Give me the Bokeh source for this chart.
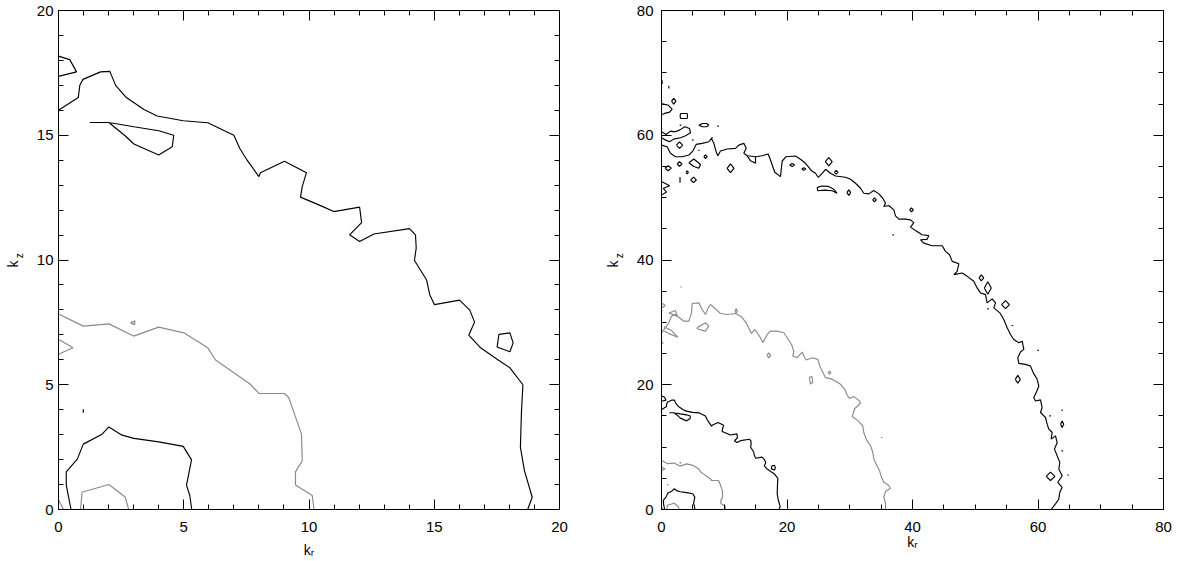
from bokeh.plotting import figure
from bokeh.models import LinearAxis, FixedTicker, Range1d
from bokeh.layouts import row
from bokeh.embed import file_html
from bokeh.resources import INLINE

# ---------------- data: contour paths (k_r, k_z) ----------------
# low-k contours (left panel; also visible in the right panel)
black_main = [(0, 16.0), (0.79, 16.51), (0.85, 17.0), (0.98, 17.24), (1.68, 17.54), (2.05, 17.56),
              (2.28, 17.0), (2.71, 16.51), (3.41, 16.03), (3.94, 15.77), (4.98, 15.58), (5.96, 15.5),
              (7.0, 15.0), (7.24, 14.47), (7.53, 14.0), (8.0, 13.34), (8.06, 13.5), (9.02, 13.96),
              (9.9, 13.5), (9.73, 12.94), (9.66, 12.52), (10.46, 12.18), (10.99, 11.94), (12.02, 12.12),
              (12.1, 11.5), (11.62, 11.01), (12.02, 10.74), (12.59, 11.04), (14.01, 11.26), (14.25, 11.01),
              (14.28, 10.48), (14.21, 9.98), (14.69, 9.21), (14.82, 8.61), (15.01, 8.21), (16.01, 8.39),
              (16.42, 7.99), (16.61, 7.51), (16.38, 6.99), (16.85, 6.48), (17.51, 6.02), (18.02, 5.68),
              (18.54, 5.0), (18.48, 3.89), (18.44, 2.49), (18.6, 1.56), (18.91, 0.49), (18.73, 0.0)]
black_corner = [(0, 18.17), (0.45, 18.03), (0.72, 17.54), (0, 17.36)]
black_wedge = [(1.25, 15.51), (2.01, 15.51), (3.01, 15.34), (4.0, 15.18), (4.6, 15.0), (4.54, 14.54),
               (4.0, 14.21), (3.01, 14.65), (2.67, 14.97), (2.01, 15.51), (1.25, 15.51)]
black_loop = [(17.58, 7.02), (18.02, 7.08), (18.15, 6.68), (18.02, 6.32), (17.51, 6.51), (17.58, 7.02)]
black_inner = [(0.5, 0), (0.31, 0.98), (0.31, 1.51), (0.75, 2.02), (0.99, 2.62), (1.74, 3.02), (2.01, 3.31),
               (2.54, 2.98), (3.01, 2.85), (4.0, 2.71), (4.98, 2.53), (5.31, 1.99), (5.11, 0.98),
               (5.24, 0.56), (5.32, 0)]
black_dot = [(0.99, 3.88), (0.99, 4.02)]
gray_main = [(0, 7.84), (0.99, 7.35), (2.01, 7.44), (3.0, 6.95), (4.0, 7.31), (5.0, 7.08), (5.96, 6.48),
             (6.27, 5.99), (7.66, 5.02), (8.0, 4.65), (9.02, 4.65), (9.19, 4.49), (9.7, 3.02), (9.73, 1.95),
             (9.46, 1.51), (9.46, 0.98), (10.13, 0.56), (10.2, 0)]
gray_wedge = [(0, 6.82), (0.58, 6.48), (0, 6.22)]
gray_speck = [(2.88, 7.48), (3.05, 7.56), (3.04, 7.41), (2.88, 7.48)]
gray_inner = [(0.88, 0), (0.94, 0.69), (2.01, 1.0), (2.67, 0.49), (2.8, 0)]
gray_corner = [(0, 0.38), (0.2, 0)]

# high-k contours (right panel only)
r_black_outer = [(0, 58.42), (0.9, 58.16), (1.43, 57.1), (2.23, 56.56), (3.29, 56.56), (4.36, 56.83),
                 (4.99, 57.47), (5.52, 58.53), (6.48, 58.7), (7.54, 58.96), (7.97, 59.5), (8.34, 58.7),
                 (8.71, 57.36), (8.98, 56.72), (9.4, 57.47), (10.47, 57.79), (11.79, 57.9), (12.32, 58.42),
                 (13.12, 58.7), (13.5, 57.9), (13.12, 57.1), (13.65, 56.72), (14.98, 56.56), (16.04, 56.72),
                 (17.0, 56.99), (17.37, 56.03), (17.74, 54.96), (18.06, 54.06), (18.96, 53.37), (19.23, 55.87),
                 (19.87, 56.56), (21.35, 56.67), (22.31, 56.03), (22.95, 55.5), (23.9, 54.32), (24.54, 53.9),
                 (24.97, 53.26), (25.6, 53.9), (26.14, 54.54), (26.93, 53.9), (27.73, 53.47), (29.32, 53.26),
                 (30.12, 52.94), (30.92, 52.3), (31.71, 51.5), (32.24, 50.7), (33.04, 50.6), (33.83, 51.13),
                 (34.63, 50.6), (35.27, 49.9), (35.7, 49.1), (35.43, 48.57), (36.22, 48.74), (37.02, 48.04),
                 (37.29, 47.08), (37.82, 46.55), (38.88, 46.55), (39.68, 46.44), (40.21, 46.0), (39.68, 45.27),
                 (40.48, 44.73), (41.55, 44.04), (42.6, 43.9), (42.3, 43.3), (41.28, 43.24), (41.8, 42.71),
                 (43.14, 42.28), (44.73, 42.28), (45.26, 41.38), (45.9, 40.85), (46.33, 39.78), (47.38, 39.41),
                 (47.12, 38.18), (46.59, 37.65), (47.92, 37.92), (48.71, 37.38), (49.77, 36.59), (50.3, 35.52),
                 (50.84, 34.72), (51.63, 34.45), (51.9, 33.12), (52.7, 33.76), (53.23, 33.12), (52.96, 32.33),
                 (53.92, 31.53), (54.55, 30.46), (55.09, 29.13), (55.62, 28.06), (56.14, 27.26), (56.94, 26.73),
                 (57.48, 26.99), (57.74, 25.67), (57.2, 25.24), (56.78, 24.34), (56.94, 23.43), (58.01, 23.27),
                 (58.8, 23.0), (59.23, 21.94), (59.87, 20.87), (60.13, 19.8), (59.76, 18.84), (59.33, 17.94),
                 (59.6, 17.4), (60.4, 17.58), (60.66, 16.35), (60.4, 15.55), (61.2, 14.75), (61.46, 13.68),
                 (61.72, 12.88), (62.26, 12.35), (62.1, 11.28), (62.79, 11.81), (63.05, 10.75), (62.63, 9.68),
                 (63.05, 8.61), (63.48, 7.56), (63.32, 6.49), (63.85, 5.42), (63.16, 4.36), (63.85, 3.56),
                 (63.48, 2.76), (63.32, 1.69), (62.79, 0.9), (62.1, 0)]
r_black_wiggle = [(0, 60.55), (0.74, 60.13), (1.43, 60.66), (2.13, 60.55), (2.87, 60.82), (3.72, 61.36),
                  (4.46, 61.09), (4.62, 60.4), (3.83, 59.92), (3.03, 59.6), (1.96, 59.38), (1.27, 58.96),
                  (0.5, 59.3), (0, 59.6)]
r_black_islands = [
    [(0, 65.1), (1.1, 64.8), (1.7, 64.2), (1.3, 63.7), (0.5, 63.5), (0, 63.3)],
    [(1.6, 65.46), (1.96, 65.9), (2.3, 65.46), (1.96, 65.0), (1.6, 65.46)],
    [(3.03, 63.49), (4.09, 63.49), (4.15, 63.1), (4.09, 62.69), (3.03, 62.69), (2.97, 63.1), (3.03, 63.49)],
    [(5.95, 61.62), (6.5, 61.89), (7.2, 61.89), (7.54, 61.62), (7.2, 61.36), (6.5, 61.36), (5.95, 61.62)],
    [(2.9, 61.62), (3.15, 61.62)],
    [(8.9, 61.46), (9.15, 61.46)],
    [(2.37, 58.42), (2.87, 58.95), (3.37, 58.42), (2.87, 57.9), (2.37, 58.42)],
    [(4.85, 59.2), (5.1, 59.3)],
    [(7.95, 59.6), (8.2, 59.6)],
    [(5.85, 57.6), (6.1, 57.6)],
    [(6.75, 56.56), (7.01, 56.86), (7.27, 56.56), (7.01, 56.26), (6.75, 56.56)],
    [(0.56, 54.7), (1.06, 55.1), (1.56, 54.7), (1.06, 54.3), (0.56, 54.7)],
    [(2.47, 55.39), (2.87, 55.75), (3.27, 55.39), (2.87, 55.03), (2.47, 55.39)],
    [(4.36, 55.6), (5.15, 56.19), (6.22, 55.3), (5.95, 54.7), (5.15, 55.0), (4.36, 55.6)],
    [(3.9, 54.06), (4.09, 54.3), (4.28, 54.06), (4.09, 53.82), (3.9, 54.06)],
    [(2.95, 53.3), (2.95, 52.4)],
    [(4.65, 52.83), (5.1, 53.3), (5.55, 52.83), (5.1, 52.4), (4.65, 52.83)],
    [(10.45, 54.7), (11.0, 55.4), (11.55, 54.7), (11.0, 54.0), (10.45, 54.7)],
    [(0, 52.6), (1.3, 51.9), (0.3, 51.5), (0.8, 50.9), (0, 50.4)],
    [(20.42, 55.23), (20.82, 55.48), (21.22, 55.23), (20.82, 54.98), (20.42, 55.23)],
    [(22.35, 54.59), (22.68, 54.8), (23.0, 54.59), (22.68, 54.38), (22.35, 54.59)],
    [(26.1, 55.76), (26.66, 56.4), (27.2, 55.76), (26.66, 55.1), (26.1, 55.76)],
    [(27.54, 54.06), (27.84, 54.36), (28.14, 54.06), (27.84, 53.76), (27.54, 54.06)],
    [(24.8, 51.6), (25.5, 51.87), (26.6, 51.8), (27.4, 51.4), (27.99, 50.7), (27.2, 51.1), (26.0, 51.2),
     (24.9, 51.1), (24.8, 51.6)],
    [(29.55, 50.8), (29.85, 51.25), (30.15, 50.8), (29.85, 50.35), (29.55, 50.8)],
    [(33.64, 49.64), (33.94, 49.94), (34.24, 49.64), (33.94, 49.34), (33.64, 49.64)],
    [(39.54, 48.04), (39.84, 48.34), (40.14, 48.04), (39.84, 47.74), (39.54, 48.04)],
    [(36.8, 44.04), (37.05, 44.04)],
    [(50.6, 37.12), (50.97, 37.6), (51.35, 37.12), (50.97, 36.64), (50.6, 37.12)],
    [(51.45, 35.5), (52.0, 36.5), (52.55, 35.5), (52.0, 34.5), (51.45, 35.5)],
    [(54.2, 32.86), (54.82, 33.5), (55.44, 32.86), (54.82, 32.2), (54.2, 32.86)],
    [(51.9, 32.17), (52.15, 32.17)],
    [(55.8, 29.5), (56.05, 29.5)],
    [(59.9, 25.5), (60.15, 25.5)],
    [(56.38, 20.87), (56.78, 21.5), (57.18, 20.87), (56.78, 20.25), (56.38, 20.87)],
    [(61.8, 15.0), (62.05, 15.0)],
    [(63.85, 16.05), (63.85, 15.8)],
    [(63.6, 13.68), (63.85, 14.2), (64.1, 13.68), (63.85, 13.16), (63.6, 13.68)],
    [(63.75, 9.41), (64.0, 9.41)],
    [(61.3, 5.32), (61.99, 6.0), (62.7, 5.32), (61.99, 4.65), (61.3, 5.32)],
    [(64.7, 5.53), (64.95, 5.53)],
    [(0.1, 68.8), (0.1, 68.2)],
    [(1.17, 67.95), (1.17, 67.5)],
    [(13.65, 56.72), (14.2, 55.9), (14.98, 55.5), (14.98, 56.56)],
]
r_gray_outer = [(0, 28.33), (1.17, 29.93), (1.59, 30.99), (2.23, 31.26), (3.56, 30.19), (4.36, 30.19),
                (4.78, 31.53), (4.89, 33.02), (5.95, 33.13), (6.48, 32.06), (7.01, 31.26), (7.44, 32.33),
                (7.81, 32.86), (8.61, 32.17), (9.4, 31.42), (10.47, 31.26), (11.79, 31.42), (12.75, 30.89),
                (13.49, 29.93), (14.02, 28.86), (14.34, 28.22), (14.87, 28.86), (15.25, 28.33), (15.78, 27.53),
                (16.15, 26.73), (16.84, 28.06), (17.37, 28.6), (18.43, 28.6), (19.5, 28.33), (20.13, 27.37),
                (20.72, 26.46), (21.09, 25.4), (20.93, 24.6), (21.62, 24.34), (22.42, 25.24), (22.68, 24.6),
                (23.05, 23.96), (24.01, 24.34), (24.91, 24.07), (25.18, 23.11), (25.6, 22.2), (26.14, 21.14),
                (26.93, 20.98), (27.73, 20.6), (28.53, 20.07), (29.22, 19.27), (29.59, 18.31), (29.96, 17.78),
                (30.65, 18.1), (31.55, 17.41), (31.71, 17.04), (30.81, 16.19), (30.39, 14.91), (31.34, 14.21),
                (32.08, 13.41), (32.24, 12.35), (32.62, 11.28), (33.31, 10.22), (33.68, 9.15), (33.84, 8.09),
                (34.21, 7.29), (34.74, 6.22), (35.06, 5.16), (35.43, 4.36), (36.12, 3.93), (36.49, 3.4),
                (35.7, 2.87), (35.43, 1.97), (35.7, 0.9), (35.7, 0)]
r_gray_islands = [
    [(5.68, 29.13), (7.01, 29.93), (7.54, 29.39), (7.01, 28.6), (5.68, 28.97), (5.68, 29.13)],
    [(11.7, 31.79), (11.9, 32.2), (12.1, 31.79), (11.9, 31.5), (11.7, 31.79)],
    [(16.8, 24.71), (17.1, 25.1), (17.4, 24.71), (17.1, 24.3), (16.8, 24.71)],
    [(23.55, 21.2), (24.0, 21.3), (24.1, 20.4), (23.75, 20.1), (23.55, 21.2)],
    [(26.55, 21.94), (26.77, 22.2), (27.0, 21.94), (26.77, 21.7), (26.55, 21.94)],
    [(34.95, 11.55), (35.2, 11.55)],
    [(0, 33.1), (0.6, 32.7), (0, 32.3)],
    [(1.17, 31.5), (2.2, 31.9), (2.5, 31.0), (1.17, 31.5)],
    [(0.4, 29.3), (1.6, 28.7), (2.6, 27.6), (1.2, 28.2), (0.4, 28.6)],
    [(3.0, 35.7), (3.2, 35.7)],
    [(0, 26.9), (0.3, 26.6)],
]

# axes
left_range = (0, 20)
left_majors = [0, 5, 10, 15, 20]
left_minors = list(range(0, 21))
right_range = (0, 80)
right_majors = [0, 20, 40, 60, 80]
right_minors = list(range(0, 81, 5))
x_title = "k\u1d63"                                  # k with subscript r
y_title = ("k\u00a0\u00a0", "\u00a0\u00a0\u00a0z")  # k with subscript z

FONT = "Liberation Sans"
BLACK = "#000000"
GRAY = "#8a8a8a"
LW = 1.15
H = 560


def xy(paths):
    return [[p[0] for p in path] for path in paths], [[p[1] for p in path] for path in paths]


def plain_axis(**kw):
    return LinearAxis(ticker=FixedTicker(ticks=[]), axis_line_color=None, major_tick_line_color=None,
                      minor_tick_line_color=None, major_tick_in=0, major_tick_out=0, minor_tick_in=0,
                      minor_tick_out=0, axis_label_text_font=FONT, axis_label_text_font_style="normal",
                      axis_label_text_color="black", **kw)


def make_fig(width, bleft, bright, rng, majors, minors, ystand, zstand, kystand, xkstand):
    p = figure(width=width, height=H, x_range=Range1d(*rng), y_range=Range1d(*rng),
               output_backend="svg", toolbar_location=None,
               x_axis_type=None, y_axis_type=None,
               min_border_left=bleft, min_border_right=bright, min_border_top=10, min_border_bottom=H - 511)
    p.outline_line_color = "black"
    p.outline_line_width = 1
    p.background_fill_color = "white"
    p.border_fill_color = "white"
    ticker = FixedTicker(ticks=majors, minor_ticks=minors)
    common = dict(ticker=ticker, major_tick_in=10, major_tick_out=0, minor_tick_in=5, minor_tick_out=0,
                  axis_line_color="black", major_tick_line_color="black", minor_tick_line_color="black",
                  major_label_text_font=FONT, major_label_text_font_size="15px",
                  major_label_text_color="black", axis_label_text_font=FONT,
                  axis_label_text_font_style="normal", axis_label_text_color="black")
    # bottom: ticks + labels + "k_r"
    b = LinearAxis(major_label_standoff=12, axis_label=x_title, axis_label_text_font_size="14px",
                   axis_label_standoff=xkstand, **common)
    p.add_layout(b, "below")
    # left: ticks + labels + subscript "z" (closest to plot), then "k"
    l = LinearAxis(major_label_standoff=ystand, axis_label=y_title[1], axis_label_text_font_size="10px",
                   axis_label_standoff=zstand, **common)
    p.add_layout(l, "left")
    p.add_layout(plain_axis(axis_label=y_title[0], axis_label_text_font_size="14px",
                            axis_label_standoff=kystand), "left")
    # mirrored ticks (no labels) on top and right
    for loc in ("above", "right"):
        ax = LinearAxis(**common)
        ax.major_label_text_color = None
        ax.major_label_text_font_size = "1px"
        ax.major_label_standoff = 0
        p.add_layout(ax, loc)
    return p


def add_low(p):
    bx, by = xy([black_main, black_corner, black_wedge, black_loop, black_inner, black_dot])
    p.multi_line(xs=bx, ys=by, line_color=BLACK, line_width=LW)
    gx, gy = xy([gray_main, gray_wedge, gray_speck, gray_inner, gray_corner])
    p.multi_line(xs=gx, ys=gy, line_color=GRAY, line_width=LW)


p1 = make_fig(601, 58, 42, left_range, left_majors, left_minors,
              ystand=5, zstand=9, kystand=-10, xkstand=7)
add_low(p1)

p2 = make_fig(581, 60, 19, right_range, right_majors, right_minors,
              ystand=8, zstand=9, kystand=-10, xkstand=-1)
add_low(p2)
bx, by = xy([r_black_outer, r_black_wiggle] + r_black_islands)
p2.multi_line(xs=bx, ys=by, line_color=BLACK, line_width=LW)
gx, gy = xy([r_gray_outer] + r_gray_islands)
p2.multi_line(xs=gx, ys=gy, line_color=GRAY, line_width=LW)

layout = row(p1, p2)
open("out.html", "w").write(file_html(layout, INLINE))
